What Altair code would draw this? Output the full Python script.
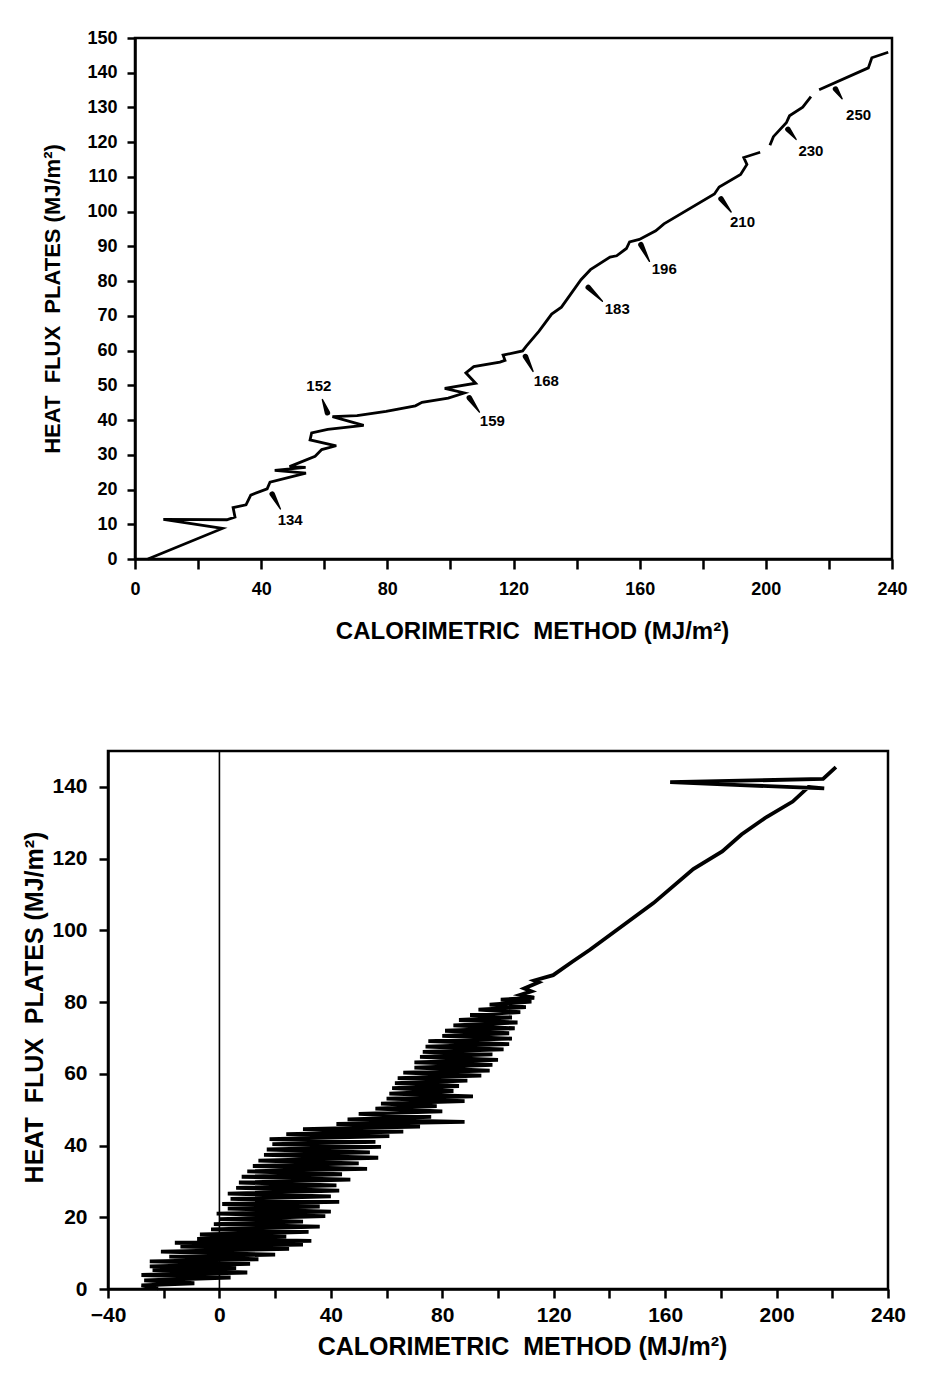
import altair as alt
import pandas as pd

FONT = "Liberation Sans"

# ---------------- Top panel: cumulative trace ----------------
top_x = [4.1, 27.7, 9.0, 29.1, 31.7, 31.1, 35.2, 36.7, 41.9, 42.8, 54.2, 44.3, 54.1, 49.0, 57.1,
         59.2, 63.8, 55.5, 56.0, 61.1, 72.5, 62.6, 70.4, 79.6, 88.9, 91.0, 99.3, 104.4, 98.2,
         108.0, 104.9, 107.4, 115.7, 117.3, 116.7, 122.9, 124.0, 128.1, 132.1, 135.2, 141.4,
         144.4, 150.6, 152.7, 155.8, 156.8, 159.9, 165.1, 167.7, 183.7, 185.2, 192.0, 194.0,
         193.0, 198.2, 201.3, 202.4, 206.5, 207.5, 211.7, 214.3, 216.9, 232.5, 233.6, 238.8]
top_y = [0.0, 8.8, 11.4, 11.3, 12.1, 14.8, 15.6, 18.4, 20.2, 22.1, 24.7, 25.5, 26.4, 26.6, 29.6,
         31.5, 32.6, 34.3, 36.3, 37.3, 38.5, 41.0, 41.3, 42.5, 44.1, 45.1, 46.3, 47.8, 49.1,
         50.6, 53.6, 55.4, 56.7, 57.2, 58.7, 59.9, 61.2, 65.6, 70.5, 72.5, 80.4,
         83.3, 86.9, 87.3, 89.4, 91.3, 92.0, 94.5, 96.5, 105.1, 107.1, 110.7, 113.6,
         115.6, 117.1, 119.1, 121.6, 125.6, 127.6, 130.1, 133.1, 135.1, 141.4, 144.3, 145.9]
top_seg = [0] * 55 + [1] * 6 + [2] * 4

# day-number annotations
ann_label = ["134", "152", "159", "168", "183", "196", "210", "230", "250"]
ann_x = [49.2, 58.3, 113.3, 130.4, 152.9, 167.8, 192.6, 214.3, 229.4]
ann_y = [11.1, 49.7, 39.8, 51.2, 71.9, 83.4, 97.1, 117.6, 127.7]
arrow_tail_x = [46.1, 59.4, 109.2, 126.2, 148.2, 163.1, 189.0, 209.6, 224.2]
arrow_tail_y = [14.4, 45.9, 42.3, 54.0, 74.2, 85.7, 99.9, 120.8, 132.5]
arrow_head_x = [43.5, 61.0, 106.0, 123.8, 143.7, 160.4, 185.8, 207.0, 222.1]
arrow_head_y = [18.7, 42.1, 46.4, 58.3, 78.2, 90.5, 103.7, 123.7, 135.3]

# ---------------- Bottom panel: hourly trace ----------------
bot_x = [-22, -28, -9, -27, 4, -28, 10, -24, 6, -25, 11, -25, 14, -18, 20, -21, 25, -14, 30, -16,
         33, -8, 24, -7, 32, -3, 36, -2, 30, 0, 38, -1, 40, 3, 36, 1, 43, 4, 40, 3,
         43, 6, 42, 7, 47, 8, 44, 10, 53, 12, 50, 14, 57, 16, 54, 17, 58, 19, 56, 18, 61,
         24, 66, 30, 72, 42, 88, 46, 76, 50, 80, 56, 78, 58, 88, 60, 91, 61, 84, 62, 86,
         63, 89, 64, 94, 66, 97, 70, 98, 70, 100, 72, 98, 73, 102, 74, 104, 75, 105, 80, 104,
         81, 106, 84, 107, 86, 105, 90, 108, 93, 110, 97, 112, 101, 113,
         108, 112, 109.4, 114.6, 113, 119.8, 126.8, 133, 143, 155.8, 170.1, 180.5, 187.4,
         196.4, 205.8, 211.5, 217.1, 187.0, 161.8, 216.7, 221.3]
bot_y = [0.2, 1.0, 1.6, 2.4, 3.2, 3.9, 4.6, 5.3, 5.8, 6.3, 7.0, 7.7, 8.3, 9.0, 9.6, 10.4, 11.2, 11.8, 12.4, 12.9,
         13.4, 14.0, 14.6, 15.2, 15.9, 16.6, 17.4, 18.1, 18.8, 19.5, 20.3, 21.0, 21.6, 22.4, 23.0, 23.7, 24.3, 25.1, 25.8, 26.6,
         27.4, 28.2, 28.9, 29.7, 30.5, 31.3, 32.0, 32.8, 33.5, 34.3, 35.0, 35.8, 36.6, 37.4, 38.1, 38.9, 39.6, 40.4, 41.0, 41.8, 42.6,
         43.2, 43.9, 44.6, 45.3, 46.0, 46.6, 47.3, 48.0, 48.8, 49.5, 50.3, 51.0, 51.7, 52.4, 53.1, 53.7, 54.5, 55.2, 56.0, 56.6,
         57.4, 58.1, 58.8, 59.5, 60.3, 60.9, 61.7, 62.5, 63.2, 63.9, 64.7, 65.4, 66.1, 66.8, 67.6, 68.3, 69.1, 69.8, 70.6, 71.3,
         72.0, 72.7, 73.5, 74.3, 75.0, 75.7, 76.4, 77.2, 77.9, 78.6, 79.3, 80.1, 80.7, 81.2,
         82.0, 83.0, 83.8, 85.5, 86.0, 87.5, 91.3, 94.6, 100.3, 107.6, 117.1, 122.0, 126.7,
         131.6, 135.9, 140.0, 139.6, 140.5, 141.3, 142.2, 145.5]

X_TITLE = "CALORIMETRIC\u00a0 METHOD (MJ/m\u00b2)"
Y_TITLE = "HEAT\u00a0 FLUX\u00a0 PLATES (MJ/m\u00b2)"

# ---------------- build top chart ----------------
top_df = pd.DataFrame({"x": top_x, "y": top_y, "seg": top_seg})
top_df["i"] = range(len(top_df))

ann_df = pd.DataFrame({"label": ann_label, "x": ann_x, "y": ann_y})

arrow_rows = []
for k in range(len(ann_label)):
    arrow_rows.append({"id": k, "x": arrow_tail_x[k], "y": arrow_tail_y[k], "w": 1.4, "o": 0})
    arrow_rows.append({"id": k, "x": arrow_head_x[k], "y": arrow_head_y[k], "w": 5.5, "o": 1})
arrow_df = pd.DataFrame(arrow_rows)

xs_top = alt.Scale(domain=[0, 240], nice=False, zero=False)
ys_top = alt.Scale(domain=[0, 150], nice=False, zero=False)

x_axis_top = alt.Axis(values=list(range(0, 241, 20)),
                      labelExpr="datum.value % 40 == 0 ? datum.label : ''",
                      title=X_TITLE, tickSize=10, labelPadding=11, labelFontSize=18,
                      titleFontSize=24, titlePadding=21, titleX=397,
                      labelFlush=False, labelOverlap=False)
y_axis_top = alt.Axis(values=list(range(0, 151, 10)), title=Y_TITLE, tickSize=8,
                      labelPadding=10, labelFontSize=18, titleFontSize=22,
                      titlePadding=22, labelOverlap=False, labelFlush=False)

X_TOP = alt.X("x:Q", scale=xs_top, axis=x_axis_top)
Y_TOP = alt.Y("y:Q", scale=ys_top, axis=y_axis_top)

top_line = alt.Chart(top_df).mark_line(color="black", strokeWidth=2.8).encode(
    x=X_TOP, y=Y_TOP, detail="seg:N", order="i:Q",
)
top_arrows = alt.Chart(arrow_df).mark_trail(color="black").encode(
    x=X_TOP, y=Y_TOP,
    size=alt.Size("w:Q", scale=None, legend=None),
    detail="id:N", order="o:Q",
)
top_labels = alt.Chart(ann_df).mark_text(font=FONT, fontSize=15, fontWeight="bold",
                                         color="black").encode(
    x=X_TOP, y=Y_TOP, text="label:N"
)

top = alt.layer(top_line, top_arrows, top_labels).properties(width=757, height=521)

# ---------------- build bottom chart ----------------
bot_df = pd.DataFrame({"x": bot_x, "y": bot_y})
bot_df["i"] = range(len(bot_df))

# the lower panel sits a little further left than the upper one: its x range
# starts left of the shared column origin, and its y axis is offset to match
xs_bot = alt.Scale(domain=[-40, 240], range=[-27, 753], nice=False, zero=False)
ys_bot = alt.Scale(domain=[0, 150], nice=False, zero=False)

x_axis_bot = alt.Axis(values=list(range(-40, 241, 20)),
                      labelExpr="datum.value % 40 == 0 ? datum.label : ''",
                      title=X_TITLE, tickSize=9, labelPadding=6, labelFontSize=21,
                      titleFontSize=25, titlePadding=9, titleX=387,
                      labelFlush=False, labelOverlap=False)
y_axis_bot = alt.Axis(values=list(range(0, 141, 10)),
                      labelExpr="datum.value % 20 == 0 ? datum.label : ''",
                      title=Y_TITLE, tickSize=9, labelPadding=12, labelFontSize=21,
                      titleFontSize=25, titlePadding=4, titleY=256, labelOverlap=False,
                      labelFlush=False, offset=27)

X_BOT = alt.X("x:Q", scale=xs_bot, axis=x_axis_bot)
Y_BOT = alt.Y("y:Q", scale=ys_bot, axis=y_axis_bot)

frame_bot = alt.Chart(pd.DataFrame({"a": [0]})).mark_rect(
    fillOpacity=0, stroke="black", strokeWidth=2.5
).encode(x=alt.datum(-40), x2=alt.datum(240), y=alt.datum(0), y2=alt.datum(150))

bot_line = alt.Chart(bot_df).mark_line(color="black", strokeWidth=3.8).encode(
    x=X_BOT, y=Y_BOT, order="i:Q",
)
zero_rule = alt.Chart(pd.DataFrame({"x": [0]})).mark_rule(color="black", strokeWidth=1.6).encode(
    x=X_BOT
)

bottom = alt.layer(zero_rule, bot_line, frame_bot).properties(
    width=753, height=538, view=alt.ViewBackground(stroke="transparent")
)

chart = alt.vconcat(top, bottom, spacing=103).properties(
    padding={"left": 13, "top": 19, "right": 0, "bottom": 0}
).configure_axis(
    labelFont=FONT, titleFont=FONT, labelFontWeight="bold", titleFontWeight="bold",
    labelColor="black", titleColor="black", domainColor="black", tickColor="black",
    domainWidth=2.5, tickWidth=2.5, grid=False, labelOverlap=False
).configure_view(stroke="black", strokeWidth=2.5)

chart.save("out.html", embed_options={"renderer": "svg", "actions": False})
